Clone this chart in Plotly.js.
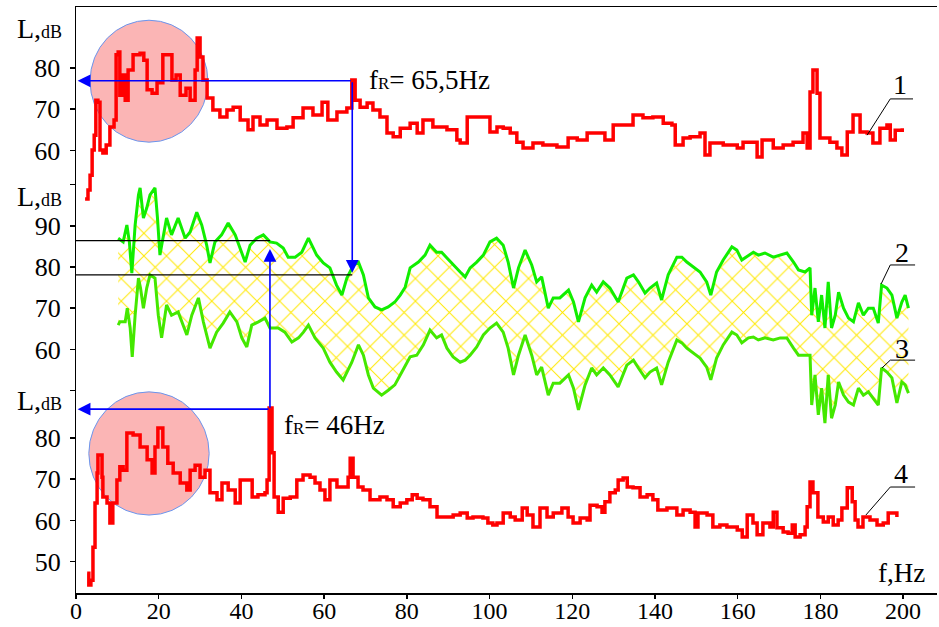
<!DOCTYPE html>
<html>
<head>
<meta charset="utf-8">
<script src="https://cdn.plot.ly/plotly-3.0.1.min.js"></script>
<style>html,body{margin:0;padding:0;background:#fff;}#chart{width:939px;height:627px;}</style>
</head>
<body>
<div id="chart"></div>
<script>
// Curve 1 (top spectrum, red)
const f1 = [2.2,2.9,3.4,3.9,4.4,4.8,5.3,5.8,6.5,7.3,8.2,9.2,9.7,10.2,10.6,11.1,11.9,12.6,13.8,15.5,16.4,17.2,18.4,19.6,21.0,22.2,23.2,24.2,25.2,26.6,27.6,28.8,29.3,30.0,30.7,31.7,33.1,34.8,36.5,38.0,39.7,41.6,42.8,44.5,46.2,48.6,51.0,52.5,54.9,57.3,59.5,60.9,63.1,65.5,66.7,67.5,68.7,70.4,71.8,73.5,75.2,76.7,78.4,80.8,82.5,83.9,86.3,89.7,92.1,92.9,94.6,100.1,101.8,103.3,105.0,106.6,108.1,110.5,112.9,116.3,119.0,121.2,123.6,126.0,127.9,129.9,132.3,134.7,137.1,139.5,142.0,144.1,144.9,146.8,148.5,150.9,152.1,153.3,156.5,159.9,161.3,164.7,165.9,168.6,171.0,173.4,175.8,176.8,177.5,178.2,179.2,179.9,182.3,184.0,185.2,186.5,187.9,189.6,191.3,192.7,194.4,196.1,196.9,198.1,199.8];
const L1 = [48.2,50.4,54.0,60.1,63.7,72.2,71.7,60.1,59.4,61.3,65.7,67.4,83.2,83.9,73.4,78.3,72.2,79.5,83.2,83.6,81.9,74.7,73.9,76.4,83.2,83.2,77.1,78.3,73.4,75.1,72.2,79.5,87.3,82.7,77.1,72.7,69.8,68.1,69.8,70.5,67.4,65.0,68.1,66.2,67.4,65.4,65.7,67.9,70.3,68.6,71.7,67.4,69.3,70.3,77.1,72.2,70.5,71.5,69.8,68.1,64.2,63.3,65.4,66.6,64.2,67.4,65.7,65.0,62.5,61.8,68.1,64.5,65.7,65.4,64.2,62.0,60.6,61.8,61.3,60.8,63.0,62.5,64.2,64.2,62.5,66.2,66.2,68.6,67.9,68.1,66.6,66.2,61.3,63.0,63.3,64.2,58.9,61.8,61.3,60.6,62.0,58.4,62.5,60.6,61.3,62.0,64.2,60.6,74.2,79.5,73.9,63.0,62.0,60.6,58.9,64.5,68.6,64.5,64.2,61.8,65.4,66.2,62.5,64.9,65.4];

// Curve 2 (upper envelope, green)
const f2 = [10.2,11.4,12.3,12.9,13.5,14.3,15.1,15.5,16.3,17.1,17.9,19.1,19.7,20.3,21.9,23.1,24.7,26.4,27.6,29.2,30.4,31.6,32.4,33.6,35.2,36.8,38.5,39.7,40.9,42.1,43.7,45.3,46.9,48.5,50.1,51.3,53.0,54.6,56.2,58.2,59.8,61.4,63.0,64.3,65.5,67.1,68.3,69.5,70.7,72.3,73.9,75.5,77.1,78.4,79.6,80.8,82.8,84.4,85.6,87.2,88.4,89.7,91.2,92.9,94.1,95.3,96.9,98.5,100.1,101.7,103.3,104.5,105.8,107.0,108.6,110.2,111.4,112.6,114.2,115.4,117.0,119.1,120.3,121.5,123.1,124.7,125.9,127.5,129.1,131.1,133.2,134.8,136.0,137.6,138.8,140.4,141.6,143.2,145.3,146.5,147.7,149.3,150.9,152.5,153.5,154.9,156.5,158.6,159.8,161.0,162.6,163.8,165.0,166.6,168.6,170.3,171.9,173.5,174.7,176.3,177.5,177.9,178.7,179.5,180.3,181.1,181.9,182.7,183.6,184.4,185.6,186.8,188.0,189.2,190.4,191.6,192.8,194.0,194.8,196.1,197.3,198.5,199.7,200.5,201.3];
const L2 = [87.0,86.1,90.2,86.1,78.5,90.2,97.5,99.2,91.9,94.3,97.5,99.2,91.9,82.9,91.9,87.8,91.9,87.0,88.5,93.3,90.2,85.3,81.0,86.1,87.8,90.7,87.8,84.6,81.2,85.3,87.0,87.8,86.1,85.8,84.6,82.4,82.4,83.6,87.0,82.9,81.0,79.8,75.6,73.2,77.3,80.5,81.2,78.1,72.5,70.3,69.6,70.3,71.5,73.2,75.1,79.8,81.2,82.9,85.3,83.6,83.6,82.2,80.5,78.8,77.6,79.8,81.2,82.9,86.1,87.0,85.3,81.2,74.9,79.8,84.1,80.5,76.4,77.6,70.0,72.5,72.5,74.4,71.5,66.7,72.5,75.6,73.9,76.4,74.9,71.5,77.3,78.1,76.4,73.7,74.9,76.1,72.0,78.1,82.4,82.4,81.2,80.0,78.8,76.4,73.2,78.8,81.7,84.9,84.1,81.7,82.9,83.6,82.9,83.4,82.4,82.9,83.4,81.2,79.3,78.8,79.8,68.3,74.9,66.7,73.2,65.2,76.4,65.2,68.3,73.9,70.0,67.6,66.7,71.3,68.3,70.0,70.0,66.4,75.6,74.9,73.2,67.6,71.5,73.2,70.0];

// Curve 3 (lower envelope, green)
const f3 = [10.2,10.6,11.9,12.4,13.1,13.6,14.3,15.1,15.6,16.3,17.1,17.9,19.1,19.9,20.7,21.9,23.1,24.7,26.8,28.0,29.6,30.8,32.4,34.0,35.6,37.2,38.9,40.1,41.3,42.5,44.1,45.7,46.9,48.9,50.5,52.2,53.8,55.0,56.2,57.8,59.8,61.4,63.0,64.6,66.7,68.3,69.5,70.7,71.9,73.9,75.5,77.1,78.4,79.6,80.8,82.4,84.0,85.6,87.2,88.4,89.7,91.2,92.9,94.1,95.3,96.9,98.5,100.1,101.7,103.3,104.5,105.8,107.0,108.6,110.2,111.4,112.6,114.2,115.4,117.0,119.1,120.3,121.5,123.1,124.7,125.9,127.5,129.1,131.1,133.2,134.8,136.0,137.6,138.8,140.4,141.6,143.2,145.3,146.5,147.7,149.3,150.9,152.5,153.5,154.9,156.5,158.6,159.8,161.0,162.6,163.8,165.0,166.6,168.6,170.3,171.9,173.5,174.7,176.3,177.5,177.9,178.7,179.5,180.3,181.1,181.9,182.7,183.6,184.4,185.6,186.8,188.0,189.2,190.4,191.6,192.8,194.0,194.8,196.1,197.3,198.5,199.7,200.5,201.3];
const L3 = [65.9,66.7,66.7,70.0,65.2,58.2,68.3,77.3,74.9,70.0,74.9,78.1,77.3,68.3,62.8,70.8,68.3,69.1,63.5,68.3,72.5,66.7,60.3,64.2,66.4,69.1,66.7,62.8,60.6,65.9,66.7,67.6,65.2,65.2,64.2,61.8,62.8,64.2,65.9,62.8,60.3,56.9,54.5,52.6,56.9,61.1,58.6,53.8,50.6,48.9,50.1,51.4,53.8,56.2,58.2,58.6,61.1,64.7,62.8,63.5,60.3,58.2,56.9,57.4,58.6,60.6,63.5,65.2,66.4,64.2,60.3,53.8,58.6,63.5,58.6,53.8,55.7,48.9,51.8,51.8,53.8,50.6,45.3,51.4,55.5,53.8,55.5,53.8,50.9,56.2,57.4,55.5,53.1,54.5,55.5,51.4,56.9,62.3,61.6,60.3,59.1,57.9,55.7,52.6,57.9,61.1,64.2,63.5,61.6,62.8,63.0,62.3,62.8,62.3,62.8,62.8,60.3,58.6,58.6,58.6,46.5,53.8,44.1,50.6,42.1,53.8,43.3,46.5,52.1,48.9,47.2,46.5,50.6,48.9,49.7,48.2,46.5,55.5,54.5,53.1,47.0,52.1,51.4,49.4];

// Curve 4 (bottom spectrum, red)
const f4 = [2.7,3.1,3.6,4.1,4.6,5.1,5.3,6.3,6.5,7.5,8.2,8.9,9.9,10.6,11.4,12.3,13.8,15.5,17.2,18.4,19.1,19.8,21.0,22.2,23.5,25.2,26.8,27.6,28.8,30.0,31.2,32.4,34.1,35.3,36.8,38.5,39.7,41.4,42.6,44.0,45.7,46.2,46.7,47.4,47.9,48.9,50.1,51.8,53.4,54.9,56.6,57.8,59.0,60.2,61.4,63.1,64.6,65.8,66.3,67.0,68.2,69.4,71.1,73.5,75.2,76.7,78.4,80.0,81.3,82.5,83.9,85.6,87.3,88.8,91.2,92.9,94.6,96.0,98.4,99.6,100.8,101.8,103.3,105.0,106.2,107.9,109.1,110.5,112.2,113.9,115.4,117.5,119.0,120.2,121.9,123.6,124.3,126.0,127.2,127.9,129.1,130.4,131.1,132.3,133.3,134.7,136.4,138.1,139.5,140.7,142.9,145.3,146.8,148.5,149.7,150.4,152.6,154.0,155.7,157.4,159.9,161.1,162.3,163.7,164.7,166.1,167.8,168.6,169.5,171.0,172.2,173.2,173.9,175.1,176.3,176.8,177.5,178.2,179.4,180.7,181.9,183.1,184.3,185.2,186.0,186.5,187.7,188.4,189.1,190.3,192.0,193.7,195.2,196.4,197.6,198.5];
const L4 = [47.2,44.3,45.5,53.5,64.2,71.5,75.9,70.5,65.7,64.2,59.4,64.2,69.8,73.0,72.2,81.2,80.7,77.8,74.7,71.5,77.8,82.4,77.8,73.9,71.5,69.1,67.4,72.2,73.4,70.5,72.2,66.7,65.0,69.1,67.4,64.2,69.8,69.8,65.7,66.2,66.7,69.8,87.3,76.4,65.7,62.0,65.4,65.7,69.8,71.0,70.5,69.1,67.4,65.0,69.8,68.1,68.1,70.5,75.1,70.5,68.1,67.4,65.0,65.7,65.0,63.3,64.2,65.0,66.2,65.4,65.0,63.3,60.8,60.8,61.3,61.8,60.6,60.8,60.6,59.4,58.9,59.4,61.8,60.8,60.1,63.0,61.3,58.4,63.0,60.8,61.8,63.0,60.8,59.4,60.6,60.1,63.7,63.3,62.0,64.5,66.7,67.4,69.8,70.3,68.1,67.9,65.7,66.2,65.0,62.5,63.0,61.3,62.5,62.0,58.4,61.8,61.3,58.4,58.9,58.4,57.7,56.0,61.3,59.4,56.5,59.4,58.4,62.0,58.2,57.2,56.9,58.9,56.0,56.5,58.4,63.3,69.3,66.7,60.8,59.6,60.8,58.9,60.1,63.0,63.0,67.9,64.5,60.1,58.4,60.8,60.1,58.9,59.4,61.8,61.8,60.8];

// Tick labels
const xTicks = [0,20,40,60,80,100,120,140,160,180,200];
const y1Ticks = [60,70,80];
const y2Ticks = [50,60,70,80,90,100];
const y2Text = ['','60','70','80','90',''];
const y3Ticks = [50,60,70,80];

// Resonance markers
const fR1 = 66.8, LR1 = 76.9;   // fR = 65,5 Hz
const fR2 = 46.9, LR2 = 87.0;   // fR = 46 Hz

const FONT = 'Liberation Serif, Times New Roman, serif';
const RED = '#ff0000', G2 = '#11ee00', G3 = '#44e800', BLUE = '#0000ff';

const traces = [
  {x:f1, y:L1, yaxis:'y', type:'scatter', mode:'lines', line:{color:RED, width:3.5, shape:'hv'}},
  {x:f3, y:L3, yaxis:'y2', type:'scatter', mode:'lines', line:{color:G3, width:3}},
  {x:f2, y:L2, yaxis:'y2', type:'scatter', mode:'lines', line:{color:G2, width:3},
   fill:'tonexty', fillcolor:'rgba(255,255,255,0)',
   fillpattern:{shape:'x', fgcolor:'#ffe800', bgcolor:'rgba(255,255,255,0)', size:16, solidity:0.12}},
  {x:f4, y:L4, yaxis:'y3', type:'scatter', mode:'lines', line:{color:RED, width:3.5, shape:'hv'}}
];

const tickFont = {family:FONT, size:26, color:'#000'};
const baseY = {showgrid:false, zeroline:false, ticks:'outside', ticklen:5, tickwidth:1.5, tickcolor:'#000',
  tickfont:tickFont, ticklabelstandoff:4, fixedrange:true};

const lab = (txt, x, y, yref, size) => ({text:txt, x:x, y:y, xref:'x', yref:yref, showarrow:false,
  font:{family:FONT, size:size||26, color:'#000'}, xanchor:'center', yanchor:'middle'});
const ldb = (y, yref) => ({text:"L,<span style='font-size:18px'>dB</span>", x:0, y:y, xref:'paper', yref:yref,
  xanchor:'right', yanchor:'middle', xshift:-12, showarrow:false, font:{family:FONT, size:28, color:'#000'}});
const arrow = (x, y, ax, ay, yref) => ({x:x, y:y, ax:ax, ay:ay, xref:'x', yref:yref, axref:'x', ayref:yref,
  text:'', showarrow:true, arrowhead:2, arrowsize:1.6, arrowwidth:1.6, arrowcolor:BLUE});
const seg = (x0, y0, x1, y1, yref, color, w) => ({type:'line', xref:'x', yref:yref, x0:x0, y0:y0, x1:x1, y1:y1,
  line:{color:color, width:w}});

const layout = {
  width:939, height:627,
  margin:{l:76, r:2, t:7, b:34},
  paper_bgcolor:'#fff', plot_bgcolor:'#fff',
  showlegend:false,
  xaxis:{range:[0,208.2], tickvals:xTicks, showgrid:false, zeroline:false, showline:true, linecolor:'#000',
    linewidth:1.5, mirror:true, ticks:'outside', ticklen:4, tickwidth:1.5, tickcolor:'#000',
    tickfont:{family:FONT, size:24, color:'#000'}, ticklabelstandoff:-8, fixedrange:true},
  yaxis:Object.assign({}, baseY, {range:[-47.42,94.81], tickvals:y1Ticks, showline:true, linecolor:'#000', linewidth:1.5, anchor:'x'}),
  yaxis2:Object.assign({}, baseY, {range:[0.88,143.11], tickvals:y2Ticks, ticktext:y2Text, overlaying:'y', anchor:'x', side:'left'}),
  yaxis3:Object.assign({}, baseY, {range:[42.38,184.61], tickvals:y3Ticks, overlaying:'y', anchor:'x', side:'left'}),
  shapes:[
    {type:'circle', xref:'x', yref:'y', x0:3.4, x1:31.9, y0:62.0, y1:91.6, layer:'below',
     fillcolor:'rgba(248,120,120,0.55)', line:{color:'#6a95ee', width:1}},
    {type:'circle', xref:'x', yref:'y3', x0:3.1, x1:32.2, y0:61.3, y1:91.2, layer:'below',
     fillcolor:'rgba(248,120,120,0.55)', line:{color:'#6a95ee', width:1}},
    // black level lines
    seg(0, 86.4, fR2, 86.4, 'y2', '#000', 1.3),
    seg(0, 78.1, fR1, 78.1, 'y2', '#000', 1.3),
    // leader lines for labels
    seg(196.9, 72.5, 202.4, 72.5, 'y', '#000', 1),
    seg(196.9, 72.5, 191.3, 63.7, 'y', '#000', 1),
    seg(196.9, 80.5, 202.9, 80.5, 'y2', '#000', 1),
    seg(196.9, 80.5, 194.7, 75.9, 'y2', '#000', 1),
    seg(196.9, 57.4, 202.9, 57.4, 'y2', '#000', 1),
    seg(196.9, 57.4, 194.9, 55.5, 'y2', '#000', 1),
    seg(196.9, 68.1, 202.9, 68.1, 'y3', '#000', 1),
    seg(196.9, 68.1, 191.0, 61.3, 'y3', '#000', 1)
  ],
  annotations:[
    ldb(89.5, 'y'), ldb(97.2, 'y2'), ldb(89.0, 'y3'),
    arrow(0.4, LR1, fR1, LR1, 'y'),
    arrow(fR1, 78.6, fR1, 125.2, 'y2'),
    arrow(fR2, 84.4, fR2, 45.5, 'y2'),
    arrow(0.4, LR2, fR2, LR2, 'y3'),
    {text:"f<span style='font-size:17px'>R</span>= 65,5Hz", x:70.4, y:77.1, xref:'x', yref:'y', xanchor:'left', yanchor:'middle',
     showarrow:false, font:{family:FONT, size:27, color:'#000'}},
    {text:"f<span style='font-size:17px'>R</span>= 46Hz", x:49.8, y:83.2, xref:'x', yref:'y3', xanchor:'left', yanchor:'middle',
     showarrow:false, font:{family:FONT, size:27, color:'#000'}},
    lab('f,Hz', 199.5, 47.2, 'y3', 27),
    lab('1', 199.3, 75.9, 'y', 28),
    lab('2', 199.8, 83.6, 'y2', 28),
    lab('3', 199.8, 60.3, 'y2', 28),
    lab('4', 199.6, 71.5, 'y3', 28)
  ]
};

Plotly.newPlot('chart', traces, layout, {displayModeBar:false, staticPlot:true});
</script>
</body>
</html>
